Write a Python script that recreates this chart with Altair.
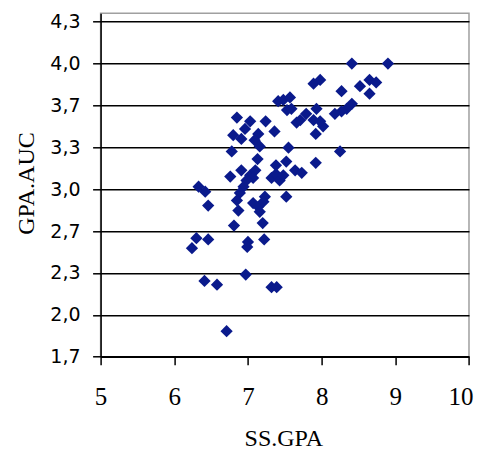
import altair as alt
import pandas as pd

# SS.GPA (x) and GPA.AUC (y) values
ss_gpa = [
    8.41, 8.90, 7.89, 7.98, 8.27, 8.52, 8.65, 8.74, 8.65, 8.41,
    8.34, 8.27, 8.18, 8.25, 7.92, 7.92, 8.02, 7.89, 7.98, 7.79,
    7.93, 7.66, 7.71, 7.41, 7.48, 7.57, 7.53, 7.59, 7.55, 7.32,
    7.38, 7.43, 7.48, 7.38, 7.52, 7.64, 7.73, 7.52,
    6.85, 7.03, 6.96, 7.24, 7.36, 6.80, 6.91, 7.14, 7.09, 7.16,
    6.78, 7.13, 6.91, 6.76, 7.03, 7.10, 7.07, 6.98, 6.94, 6.89,
    6.85, 6.87, 6.81, 7.07, 7.14, 7.16, 7.23, 7.21, 7.20,
    6.33, 6.42, 6.46, 6.30, 6.24, 6.46, 7.00, 6.99, 7.22, 6.41,
    6.58, 6.97, 7.32, 7.39, 6.71,
]
gpa_auc = [
    4.00, 4.00, 3.84, 3.87, 3.78, 3.82, 3.87, 3.85, 3.76, 3.68,
    3.64, 3.62, 3.60, 3.30, 3.21, 3.44, 3.50, 3.55, 3.54, 3.60,
    3.64, 3.53, 3.55, 3.70, 3.71, 3.73, 3.63, 3.64, 3.33, 3.09,
    3.12, 3.07, 3.11, 3.19, 3.22, 3.15, 3.13, 2.94,
    3.57, 3.54, 3.48, 3.54, 3.46, 3.43, 3.40, 3.44, 3.39, 3.34,
    3.30, 3.24, 3.15, 3.10, 3.11, 3.15, 3.09, 3.07, 3.02, 2.97,
    2.91, 2.83, 2.71, 2.89, 2.86, 2.82, 2.94, 2.90, 2.73,
    3.02, 2.98, 2.87, 2.61, 2.53, 2.60, 2.58, 2.54, 2.60, 2.27,
    2.24, 2.32, 2.22, 2.22, 1.87,
]

x_ticks = [5, 6, 7, 8, 9, 10]
y_ticks = [5 / 3, 2.0, 7 / 3, 8 / 3, 3.0, 10 / 3, 11 / 3, 4.0, 13 / 3]

df = pd.DataFrame({"ss": ss_gpa, "auc": gpa_auc})

W = 368.4
H = 343.4

chart = (
    alt.Chart(df)
    .mark_point(shape="diamond", filled=True, size=150, color="#0a1a8c", opacity=1)
    .encode(
        x=alt.X(
            "ss:Q",
            scale=alt.Scale(domain=[5, 10], nice=False, zero=False),
            axis=alt.Axis(
                values=x_ticks,
                grid=False,
                title="SS.GPA",
                domainColor="black",
                domainWidth=1.5,
                tickColor="black",
                tickWidth=1.5,
                tickSize=8,
                labelFont="Liberation Serif",
                labelFontSize=25,
                labelColor="black",
                labelBaseline="alphabetic",
                labelAlign=alt.condition("datum.value == 10", alt.value("right"), alt.value("center")),
                labelOffset=alt.condition("datum.value == 10", alt.value(4), alt.value(0)),
                labelPadding=40,
                labelFlush=False,
                labelOverlap=False,
                titleFont="Liberation Serif",
                titleFontSize=24,
                titleFontWeight="normal",
                titleColor="black",
                titleX=182.7,
                titleY=88.5,
                titleAlign="center",
                titleBaseline="alphabetic",
            ),
        ),
        y=alt.Y(
            "auc:Q",
            scale=alt.Scale(domain=[5 / 3, 4.4], nice=False, zero=False),
            axis=alt.Axis(
                values=y_ticks,
                labelExpr="replace(format(datum.value, '.1f'), '.', ',')",
                grid=True,
                gridColor="black",
                gridWidth=1.5,
                gridOpacity=1,
                title="GPA.AUC",
                domainColor="black",
                domainWidth=1.5,
                tickColor="black",
                tickWidth=1.5,
                tickSize=8,
                labelFont="DejaVu Sans",
                labelFontSize=19,
                labelColor="black",
                labelAlign="right",
                labelBaseline="middle",
                labelPadding=12.6,
                labelFlush=False,
                labelOverlap=False,
                titleFont="Liberation Serif",
                titleFontSize=24,
                titleFontWeight="normal",
                titleColor="black",
                titleAngle=270,
                titleX=-67.6,
                titleY=169.7,
                titleAlign="center",
                titleBaseline="alphabetic",
            ),
        ),
    )
    .properties(
        width=W,
        height=H,
        autosize=alt.AutoSizeParams(type="none"),
        padding={"left": 92.6, "top": 5.3, "right": 5, "bottom": 95},
    )
    .configure_view(stroke="#a0a0a0", strokeWidth=1.5)
)

chart.save("out.html", embed_options={"renderer": "svg", "actions": False})
